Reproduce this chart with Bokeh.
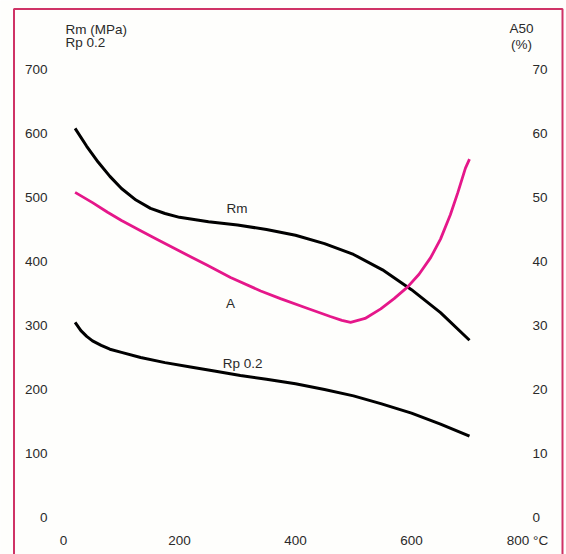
from bokeh.plotting import figure
from bokeh.models import Range1d, BoxAnnotation
from bokeh.core.properties import value
from bokeh.embed import file_html
from bokeh.resources import INLINE

# ---- data ----
rm_temp = [20, 40, 60, 80, 100, 125, 150, 175, 200, 250, 300, 350, 400, 450, 500, 550, 600, 650, 700]
rm_mpa = [608, 580, 555, 533, 514, 496, 483, 475, 469, 462, 457, 450, 441, 428, 411, 387, 356, 320, 277]

rp_temp = [20, 30, 40, 50, 65, 80, 100, 133, 175, 219, 260, 305, 350, 400, 450, 500, 547, 600, 650, 700]
rp_mpa = [305, 292, 283, 276, 269, 263, 258, 250, 242, 235, 229, 222, 216, 209, 200, 190, 178, 163, 146, 127]

a_temp = [20, 50, 76, 100, 133, 160, 190, 220, 248, 288, 340, 374, 420, 460, 480, 495, 520, 547, 570, 593, 613, 633, 650, 667, 680, 693, 700]
a_pct = [50.8, 49.2, 47.7, 46.4, 44.8, 43.5, 42.1, 40.7, 39.4, 37.5, 35.4, 34.2, 32.7, 31.4, 30.8, 30.5, 31.1, 32.6, 34.2, 36.0, 38.0, 40.6, 43.5, 47.3, 50.8, 54.6, 56.0]

x_ticks = [0, 200, 400, 600, 800]
x_tick_labels = ["0", "200", "400", "600", "800 °C"]
left_ticks = [0, 100, 200, 300, 400, 500, 600, 700]
right_ticks = [0, 10, 20, 30, 40, 50, 60, 70]

curve_label_text = ["Rm", "A", "Rp 0.2"]
curve_label_x = [299, 288, 309]
curve_label_y = [483, 334, 241]

# ---- layout ----
W, H = 566, 554
X0_PX, X_SCALE = 63.0, 0.58     # px of T=0, px per degree
Y0_PX, Y_SCALE = 517.0, 0.64    # px of 0 MPa, px per MPa

x_range = Range1d(-X0_PX / X_SCALE, (W - X0_PX) / X_SCALE)
y_range = Range1d(-(H - Y0_PX) / Y_SCALE, Y0_PX / Y_SCALE)

p = figure(width=W, height=H, x_range=x_range, y_range=y_range,
           x_axis_type=None, y_axis_type=None,
           output_backend="svg", toolbar_location=None,
           min_border=0, outline_line_color=None,
           background_fill_color="#fefefc", border_fill_color="#fefefc")
p.grid.visible = False
p.extra_y_ranges = {"a": Range1d(y_range.start / 10.0, y_range.end / 10.0)}

FONT = value("Liberation Sans")
TXT = "#2a2a2a"
FS = "13.5px"

# frame border
p.add_layout(BoxAnnotation(left=(13.5 - X0_PX) / X_SCALE, right=(562 - X0_PX) / X_SCALE,
                           top=(Y0_PX - 8.5) / Y_SCALE, bottom=y_range.start - 50,
                           fill_color=None, fill_alpha=0, line_color="#cf3366",
                           line_alpha=1.0, line_width=2))

# curves
p.line(rm_temp, rm_mpa, line_color="black", line_width=3, line_join="round")
p.line(rp_temp, rp_mpa, line_color="black", line_width=3, line_join="round")
p.line(a_temp, a_pct, line_color="#e5178a", line_width=2.8, line_join="round", y_range_name="a")

# curve labels
p.text(curve_label_x, curve_label_y, text=curve_label_text, text_font=FONT,
       text_font_size=FS, text_color=TXT, text_align="center", text_baseline="middle")

# left tick labels
p.text([0] * len(left_ticks), left_ticks, text=[str(v) for v in left_ticks],
       x_offset=-16, text_font=FONT, text_font_size=FS, text_color=TXT,
       text_align="right", text_baseline="middle")

# right tick labels
p.text([800] * len(right_ticks), right_ticks, text=[str(v) for v in right_ticks],
       x_offset=5, text_font=FONT, text_font_size=FS, text_color=TXT,
       text_align="left", text_baseline="middle", y_range_name="a")

# bottom tick labels
p.text(x_ticks, [0] * len(x_ticks), text=x_tick_labels, y_offset=23,
       text_font=FONT, text_font_size=FS, text_color=TXT,
       text_align="center", text_baseline="middle")

# axis titles
p.text([0, 0], [700, 700], text=["Rm (MPa)", "Rp 0.2"], x_offset=2, y_offset=[-40, -27],
       text_font=FONT, text_font_size=FS, text_color=TXT,
       text_align="left", text_baseline="middle")
p.text([800, 800], [70, 70], text=["A50", "(%)"], x_offset=-6, y_offset=[-41, -25],
       text_font=FONT, text_font_size=FS, text_color=TXT,
       text_align="center", text_baseline="middle", y_range_name="a")

open("out.html", "w").write(file_html(p, INLINE))
